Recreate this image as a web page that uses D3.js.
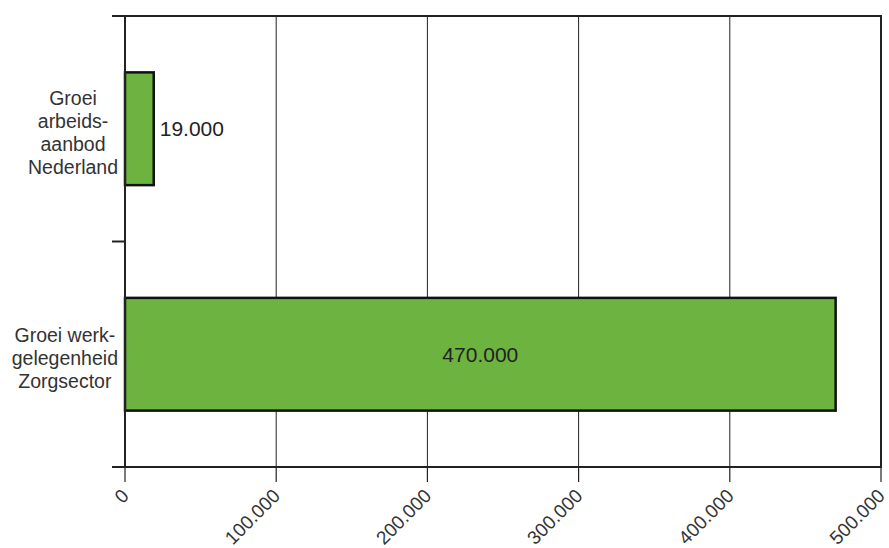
<!DOCTYPE html>
<html><head><meta charset="utf-8">
<script src="https://cdn.jsdelivr.net/npm/d3@7"></script>
<style>body{margin:0;background:#fff}</style>
</head><body>
<svg id="c" width="889" height="548"></svg>
<script>
const categories = [["Groei","arbeids-","aanbod","Nederland"],["Groei werk-","gelegenheid","Zorgsector"]];
const values = [19000, 470000];
const valueLabels = ["19.000", "470.000"];
const tickValues = [0, 100000, 200000, 300000, 400000, 500000];
const tickLabels = ["0", "100.000", "200.000", "300.000", "400.000", "500.000"];

const svg = d3.select("#c");
const L = 125, R = 881, T = 16, B = 467;
const font = "'Liberation Sans', Arial, sans-serif";
const x = d3.scaleLinear().domain([0, 500000]).range([L, R]);
const y = d3.scaleBand().domain(d3.range(categories.length)).range([T, B]).padding(0);

// gridlines
svg.selectAll("line.grid").data(tickValues.slice(1, -1)).join("line")
  .attr("x1", d => x(d)).attr("x2", d => x(d)).attr("y1", T).attr("y2", B)
  .attr("stroke", "#222").attr("stroke-width", 1);

// bars
const bh = y.bandwidth() * 0.5;
svg.selectAll("rect.bar").data(values).join("rect")
  .attr("x", x(0)).attr("y", (d, i) => y(i) + (y.bandwidth() - bh) / 2)
  .attr("width", d => x(d) - x(0)).attr("height", bh)
  .attr("fill", "#6db33f").attr("stroke", "#111").attr("stroke-width", 2.5);

// frame
svg.append("rect").attr("x", L).attr("y", T).attr("width", R - L).attr("height", B - T)
  .attr("fill", "none").attr("stroke", "#222").attr("stroke-width", 2);

// left ticks
const lt = [T].concat(categories.map((c, i) => y(i) + y.bandwidth()));
svg.selectAll("line.lt").data(lt).join("line")
  .attr("x1", L - 13).attr("x2", L).attr("y1", d => d).attr("y2", d => d)
  .attr("stroke", "#222").attr("stroke-width", 2);

// bottom ticks
svg.selectAll("line.bt").data(tickValues).join("line")
  .attr("x1", d => x(d)).attr("x2", d => x(d)).attr("y1", B).attr("y2", B + 15)
  .attr("stroke", "#222").attr("stroke-width", 1.2);

// x labels
svg.selectAll("text.xl").data(tickValues).join("text")
  .attr("transform", d => `translate(${x(d) - 5},${B + 20}) rotate(-45)`)
  .attr("text-anchor", "end").attr("dy", "0.75em")
  .attr("font-family", font).attr("font-size", 19).attr("fill", "#333")
  .text((d, i) => tickLabels[i]);

// category labels
categories.forEach((lines, i) => {
  const cy = y(i) + y.bandwidth() / 2 + 4;
  const lh = 23;
  const t = svg.append("text").attr("text-anchor", "middle")
    .attr("font-family", font).attr("font-size", 19.5).attr("fill", "#333");
  const spans = lines.map((s, j) =>
    t.append("tspan").attr("y", cy + (j - (lines.length - 1) / 2) * lh).attr("dy", "0.35em").text(s));
  const maxW = d3.max(spans, s => s.node().getComputedTextLength());
  spans.forEach(s => s.attr("x", 118 - maxW / 2));
});

// value labels
values.forEach((v, i) => {
  const cy = y(i) + y.bandwidth() / 2;
  const inside = x(v) - x(0) > 100;
  svg.append("text")
    .attr("x", inside ? (x(0) + x(v)) / 2 : x(v) + 6)
    .attr("y", cy).attr("dy", "0.35em")
    .attr("text-anchor", inside ? "middle" : "start")
    .attr("font-family", font).attr("font-size", 21).attr("fill", "#222")
    .text(valueLabels[i]);
});
</script>
</body></html>
